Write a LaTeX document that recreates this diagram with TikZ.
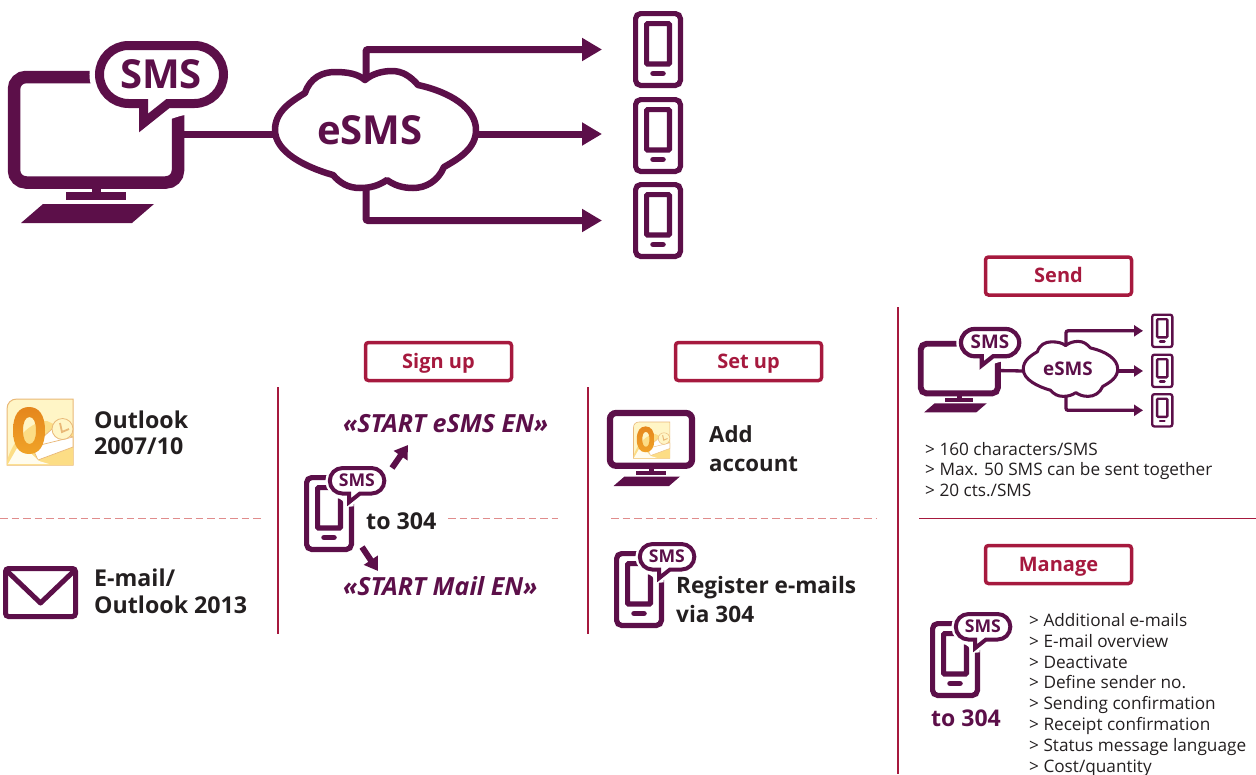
\documentclass[tikz,border=0pt]{standalone}
\usepackage{fontspec}
\setmainfont{Open Sans}
\usetikzlibrary{arrows.meta}
\definecolor{plum}{HTML}{5C0F49}
\definecolor{crim}{HTML}{A6193E}
\definecolor{ink}{HTML}{231F20}
\definecolor{dashpink}{HTML}{E08C8C}
\definecolor{olcream}{HTML}{FFF5C6}
\definecolor{olband}{HTML}{FCDD85}
\definecolor{olline}{HTML}{E9B877}
\definecolor{oltop}{HTML}{E5861C}
\definecolor{olbot}{HTML}{F0A328}
\tikzset{
  lbl/.style={anchor=base west,inner sep=0pt,align=left,text=ink,font=\bfseries\fontsize{23.2}{26.5}\selectfont},
  slogan/.style={anchor=base west,inner sep=0pt,text=plum,font=\bfseries\itshape\fontsize{25}{26}\selectfont},
  lst/.style={anchor=base west,inner sep=0pt,align=left,text=ink},
  tagbox/.style={draw=crim,line width=3.5pt,rounded corners=3pt,minimum width=146pt,minimum height=38pt,inner sep=0pt,text height=16pt,text depth=3pt,text=crim,font=\bfseries\fontsize{20}{22}\selectfont},
  rule/.style={draw=crim,line width=1.5pt},
  dashrule/.style={draw=dashpink,line width=1pt,dash pattern=on 7.5pt off 4pt},
  link/.style={draw=plum,line width=7pt,rounded corners=2pt},
}
% speech bubble: name, x, y, scale (local geometry of the large one)
\newcommand{\Bubble}[4]{%
  \pgfmathsetmacro{\bw}{9*#4}\pgfmathsetmacro{\bh}{20*#4}\pgfmathsetmacro{\br}{29*#4}\pgfmathsetmacro{\bf}{40*#4}%
  \begin{scope}[shift={(#2,#3)},scale=#4]
    \path[draw=white,fill=white,line width=\bh pt,rounded corners=\br pt,miter limit=2]
      (143.5,103.5) -- (143.5,123) -- (168,103.5) -- (223.5,103.5) -- (223.5,45.5) -- (99.5,45.5) -- (99.5,103.5) -- cycle;
    \path[draw=plum,fill=white,line width=\bw pt,line join=miter]
      (143.5,103.5) -- (143.5,123) -- (168,103.5)
      [rounded corners=\br pt] -- (223.5,103.5) -- (223.5,45.5) -- (99.5,45.5) -- (99.5,103.5) [sharp corners] -- cycle;
    \node[inner sep=0pt,text=plum,anchor=base,font=\bfseries\fontsize{\bf}{\bf}\selectfont] (#1) at (161,88) {SMS};
  \end{scope}}
% monitor
\newcommand{\Monitor}[4]{%
  \pgfmathsetmacro{\mw}{12.5*#4}\pgfmathsetmacro{\mr}{12*#4}%
  \begin{scope}[shift={(#2,#3)},scale=#4]
    \draw[plum,fill=white,line width=\mw pt,rounded corners=\mr pt] (14,77) rectangle (178,182.5);
    \fill[plum] (92,188) rectangle (101,193);
    \fill[plum] (66,192) rectangle (126,200);
    \fill[plum] (43,204) -- (154,204) -- (132,223) -- (21,223) -- cycle;
    \coordinate (#1) at (184,134);
  \end{scope}}
% phone
\newcommand{\Phone}[4]{%
  \pgfmathsetmacro{\pw}{5.2*#4}\pgfmathsetmacro{\pr}{5*#4}\pgfmathsetmacro{\ph}{5.5*#4}%
  \begin{scope}[shift={(#2,#3)},scale=#4]
    \draw[plum,fill=white,line width=\pw pt,rounded corners=\pr pt] (2.6,2.6) rectangle (47.4,74.4);
    \draw[plum,line width=\pw pt,rounded corners=1pt] (13.6,12.6) rectangle (36.4,53);
    \draw[plum,line width=\ph pt,line cap=round] (20,62.5) -- (30,62.5);
    \coordinate (#1) at (0,38.5);
  \end{scope}}
% cloud
\newcommand{\Cloud}[4]{%
  \pgfmathsetmacro{\cw}{6.5*#4}\pgfmathsetmacro{\cf}{40*#4}%
  \begin{scope}[shift={(#2,#3)},scale=#4]
    \path[draw=plum,fill=white,line width=\cw pt,line join=round]
      (275,130) .. controls (275,112) and (290,102) .. (305,93)
      .. controls (310,78) and (322,72) .. (335,72)
      .. controls (348,72) and (358,74) .. (365,80)
      .. controls (372,74) and (382,71) .. (392,71)
      .. controls (403,71) and (411,77) .. (418,85)
      .. controls (450,92) and (476,108) .. (476,130)
      .. controls (476,148) and (460,158) .. (444,167)
      .. controls (438,181) and (426,188) .. (413,188)
      .. controls (402,188) and (394,185) .. (387,180)
      .. controls (378,186) and (370,188) .. (360,188)
      .. controls (348,188) and (340,183) .. (333,175)
      .. controls (305,167) and (275,152) .. (275,130) -- cycle;
    \node[inner sep=0pt,text=plum,anchor=base,font=\bfseries\fontsize{\cf}{\cf}\selectfont] (#1) at (370,144) {eSMS};
    \coordinate (#1-w) at (275,134);
    \coordinate (#1-e) at (476,134);
    \coordinate (#1-n) at (366,80);
    \coordinate (#1-s) at (366,187);
  \end{scope}}
% Outlook logo
\newcommand{\Outlook}[3]{%
  \pgfmathsetmacro{\ol}{1*#3}%
  \begin{scope}[shift={(#1,#2)},scale=#3]
    \path[draw=olline,line width=\ol pt,fill=olcream]
      (10,0) -- (66,0) -- (66,66) -- (0,66) -- (0,10) .. controls (0,4) and (4,0) .. (10,0) -- cycle;
    \fill[olband] (0,62) .. controls (6,40) and (24,22) .. (40,22) -- (66,34) -- (66,66) -- (0,66) -- cycle;
    \path[draw=olline,line width=.7*\ol pt,fill=white] (25,48) -- (31,61) -- (66,48) -- (66,38) -- (45,30) -- cycle;
    \fill[white!70!olcream] (1,65) -- (13,44) -- (32,62) -- (42,65) -- cycle;
    \draw[olline,line width=.7*\ol pt] (25,48) -- (66,38);
    \path[even odd rule,top color=oltop,bottom color=olbot]
      (22,8) .. controls (32,8) and (38,16) .. (38,31.5) .. controls (38,47) and (32,55) .. (22,55)
      .. controls (12,55) and (6,47) .. (6,31.5) .. controls (6,16) and (12,8) .. (22,8) -- cycle
      (22.5,18) .. controls (18.5,18) and (16,23) .. (16,31.5) .. controls (16,40) and (18.5,45) .. (22.5,45)
      .. controls (26.5,45) and (29,40) .. (29,31.5) .. controls (29,23) and (26.5,18) .. (22.5,18) -- cycle;
    \draw[olline,line width=.8*\ol pt,fill=olcream] (55.5,30) circle [radius=10.5];
    \draw[olline,line width=1.8*\ol pt] (53,24) -- (55,33) -- (62,30);
  \end{scope}}
\begin{document}
\begin{tikzpicture}[x=1pt,y=-1pt]
\useasboundingbox (0,0) rectangle (1256,774);
% ---------- large overview ----------
\Monitor{bigPC}{0}{0}{1}
\Bubble{bigSMS}{0}{0}{1}
\Phone{phA}{633}{11}{1}
\Phone{phB}{633}{97}{1}
\Phone{phC}{633}{182}{1}
\Cloud{bigCloud}{0}{0}{1}
\draw[link] (bigPC) -- (bigCloud-w);
\draw[link,-{Triangle[length=20pt,width=22pt]},shorten >=31pt] (bigCloud-n) |- (phA);
\draw[link,-{Triangle[length=20pt,width=22pt]},shorten >=31pt] (bigCloud-e) -- (bigCloud-e -| phB);
\draw[link,-{Triangle[length=20pt,width=22pt]},shorten >=31pt] (bigCloud-s) |- (phC);
% ---------- rules ----------
\coordinate (r1a) at (278,387); \coordinate (r1b) at (278,634);
\coordinate (r2a) at (588,387); \coordinate (r2b) at (588,634);
\coordinate (r3a) at (898,307); \coordinate (r3b) at (898,774);
\coordinate (r4a) at (919,518.5); \coordinate (r4b) at (1256,518.5);
\draw[rule] (r1a) -- (r1b);
\draw[rule] (r2a) -- (r2b);
\draw[rule] (r3a) -- (r3b);
\draw[rule] (r4a) -- (r4b);
\coordinate (d1a) at (0,518.5); \coordinate (d1b) at (262,518.5);
\coordinate (d2a) at (448,518.5); \coordinate (d2b) at (558,518.5);
\coordinate (d3a) at (611,518.5); \coordinate (d3b) at (877,518.5);
\draw[dashrule] (d1a) -- (d1b);
\draw[dashrule] (d2a) -- (d2b);
\draw[dashrule] (d3a) -- (d3b);
% ---------- tags ----------
\node[tagbox] (tagSign) at (438.5,361.5) {Sign up};
\node[tagbox] (tagSet) at (748.5,361.5) {Set up};
\node[tagbox] (tagSend) at (1058.5,276) {Send};
\node[tagbox] (tagManage) at (1058.5,564.5) {Manage};
% ---------- column 1 ----------
\Outlook{7}{399}{1}
\node[lbl] (tOutlook) at (94,454.5) {Outlook\\2007/10};
\coordinate (envA) at (5.5,568.5); \coordinate (envB) at (75.5,616.5);
\draw[plum,line width=5pt,rounded corners=3pt] (envA) rectangle (envB);
\coordinate (envL) at (7,571); \coordinate (envM) at (40.5,603); \coordinate (envR) at (74,571);
\draw[plum,line width=5pt,line join=round] (envL) -- (envM) -- (envR);
\node[lbl] (tMail) at (94,613) {E-mail/\\Outlook 2013};
% ---------- column 2 ----------
\Phone{phSign}{304}{475}{1}
\Bubble{bubSign}{286}{448}{.44}
\node[slogan] (tStartE) at (343,432) {«START eSMS EN»};
\node[slogan] (tStartM) at (343,595) {«START Mail EN»};
\node[lbl] (tTo) at (366,529) {to 304};
\coordinate (aUp0) at (392,468); \coordinate (aUp1) at (408,445);
\coordinate (aDn0) at (362,547); \coordinate (aDn1) at (378,571);
\draw[plum,line width=6pt,-{Triangle[length=13pt,width=16pt]}] (aUp0) -- (aUp1);
\draw[plum,line width=6pt,-{Triangle[length=13pt,width=16pt]}] (aDn0) -- (aDn1);
% ---------- column 3 ----------
\Monitor{pcSet}{603}{374.5}{.5}
\Outlook{633.5}{422}{.55}
\node[lbl,font=\bfseries\fontsize{22.2}{29}\selectfont] (tAdd) at (709,471) {Add\\account};
\Phone{phReg}{614}{551}{1}
\Bubble{bubReg}{596}{524}{.44}
\node[lbl,font=\bfseries\fontsize{22.6}{29}\selectfont] (tReg) at (676,622) {Register e-mails\\via 304};
% ---------- column 4: send ----------
\Monitor{pcSend}{914.2}{307.6}{.47}
\Bubble{bubSend}{914.2}{307.6}{.47}
\Phone{phS1}{1151}{313.5}{.45}
\Phone{phS2}{1151}{353.5}{.45}
\Phone{phS3}{1151}{393}{.45}
\Cloud{cloudS}{894}{308}{.47}
\draw[link,line width=3.3pt] (pcSend) -- (cloudS-w);
\draw[link,line width=3.3pt,-{Triangle[length=9pt,width=11pt]},shorten >=8pt] (cloudS-n) |- (phS1);
\draw[link,line width=3.3pt,-{Triangle[length=9pt,width=11pt]},shorten >=8pt] (cloudS-e) -- (cloudS-e -| phS2);
\draw[link,line width=3.3pt,-{Triangle[length=9pt,width=11pt]},shorten >=8pt] (cloudS-s) |- (phS3);
\node[lst,font=\fontsize{17.2}{20.5}\selectfont] (tSend) at (925,496) {> 160 characters/SMS\\> Max. 50 SMS can be sent together\\> 20 cts./SMS};
% ---------- column 4: manage ----------
\Phone{phMan}{930}{621}{1}
\Bubble{bubMan}{912}{594}{.44}
\node[anchor=base west,inner sep=0pt,text=plum,font=\bfseries\fontsize{23}{26}\selectfont] (tTo2) at (931,726) {to 304};
\node[lst,font=\fontsize{17.2}{20.8}\selectfont] (tManage) at (1029,772) {> Additional e-mails\\> E-mail overview\\> Deactivate\\> Define sender no.\\> Sending confirmation\\> Receipt confirmation\\> Status message language\\> Cost/quantity};
\end{tikzpicture}
\end{document}
